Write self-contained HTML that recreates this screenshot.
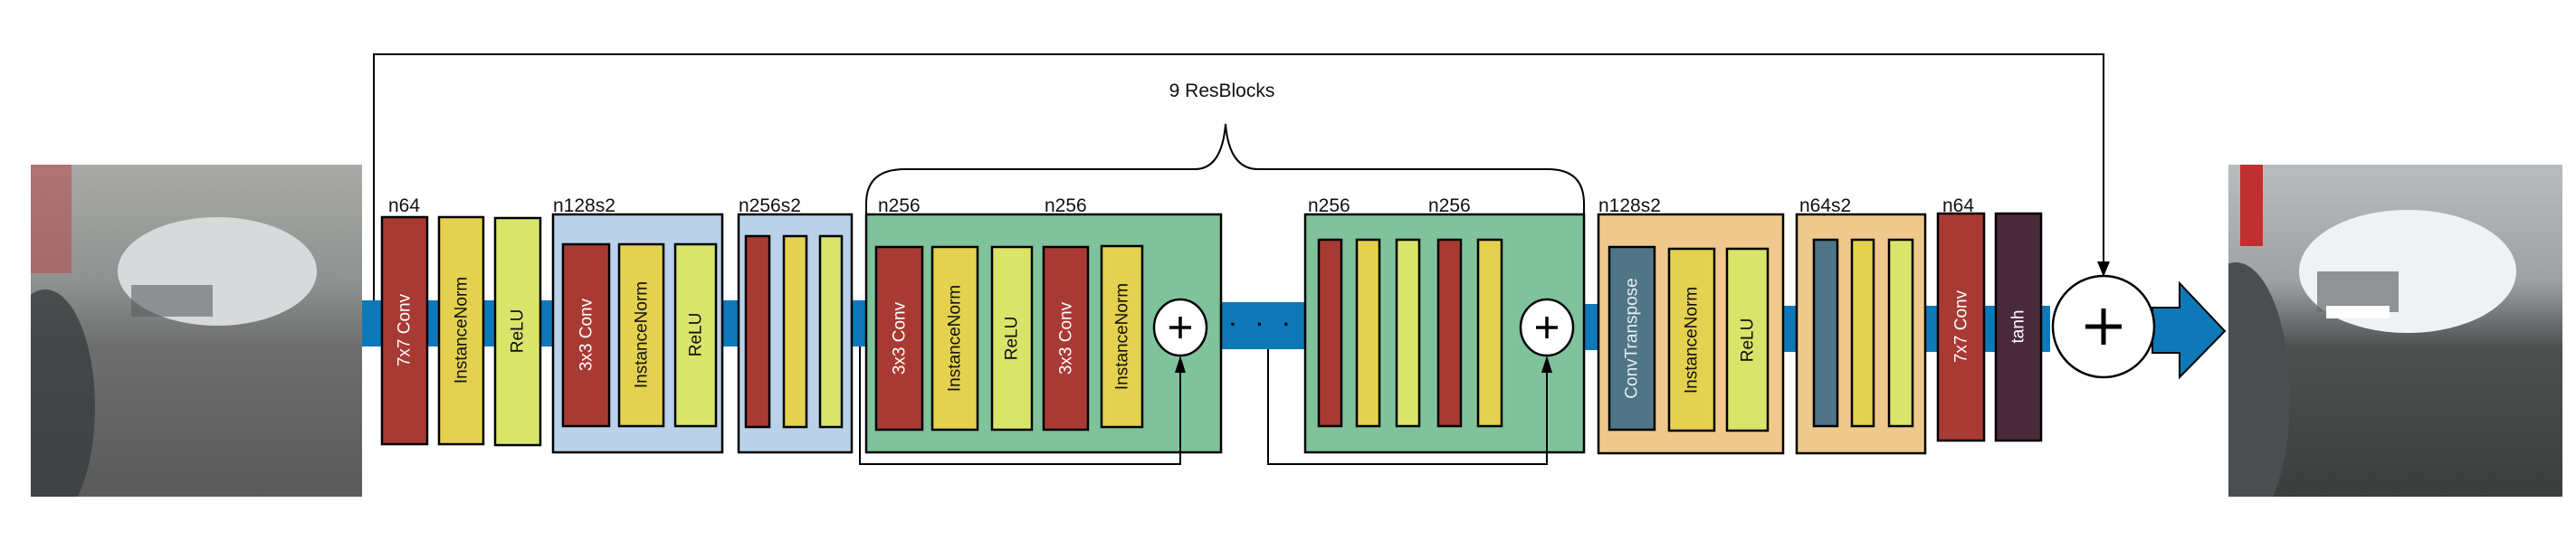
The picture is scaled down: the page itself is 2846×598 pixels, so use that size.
<!DOCTYPE html>
<html><head><meta charset="utf-8"><style>
html,body{margin:0;padding:0;background:#fff;}
svg{display:block;}
.lbl{font-family:"Liberation Sans Narrow","Liberation Sans",sans-serif;font-size:21px;fill:#111;}
.vt{font-family:"Liberation Sans",sans-serif;font-size:19px;text-anchor:middle;dominant-baseline:central;}
</style></head><body>
<svg width="2846" height="598" viewBox="0 0 2846 598" xmlns="http://www.w3.org/2000/svg">
<defs>
<linearGradient id="gL" x1="0" y1="0" x2="0" y2="1">
<stop offset="0" stop-color="#a9aaa8"/><stop offset="0.35" stop-color="#8f9290"/><stop offset="0.55" stop-color="#6d6e6d"/><stop offset="1" stop-color="#595a59"/></linearGradient>
<linearGradient id="gR" x1="0" y1="0" x2="0" y2="1">
<stop offset="0" stop-color="#b8bcbc"/><stop offset="0.35" stop-color="#9ea2a3"/><stop offset="0.55" stop-color="#4e5050"/><stop offset="1" stop-color="#3c3d3d"/></linearGradient>
<clipPath id="cL"><rect x="34" y="182" width="366" height="367"/></clipPath>
<clipPath id="cR"><rect x="2462" y="182" width="369" height="367"/></clipPath>
</defs>

<!-- left image -->
<g clip-path="url(#cL)">
<rect x="34" y="182" width="366" height="367" fill="url(#gL)"/>
<rect x="34" y="182" width="45" height="120" fill="#b25050" opacity="0.6"/>
<ellipse cx="50" cy="450" rx="55" ry="130" fill="#3a3d3f" opacity="0.8"/>
<ellipse cx="240" cy="300" rx="110" ry="60" fill="#d7d9db"/>
<rect x="145" y="315" width="90" height="35" fill="#5b5e60" opacity="0.6"/>
</g>

<!-- right image -->
<g clip-path="url(#cR)">
<rect x="2462" y="182" width="369" height="367" fill="url(#gR)"/>
<rect x="2475" y="182" width="25" height="90" fill="#c03030"/>
<ellipse cx="2470" cy="440" rx="60" ry="150" fill="#4a4e50"/>
<ellipse cx="2660" cy="300" rx="120" ry="68" fill="#f0f1f3"/>
<rect x="2560" y="300" width="90" height="45" fill="#666a6c" opacity="0.7"/>
<rect x="2570" y="338" width="70" height="14" fill="#fff"/>
</g>

<!-- skip line top -->
<polyline points="413,332 413,60 2324,60 2324,292" fill="none" stroke="#000" stroke-width="2"/>
<polygon points="2317,289 2331,289 2324,306" fill="#000"/>

<!-- blue bars -->
<rect x="400" y="332" width="560" height="51" fill="#0f78b8"/>
<rect x="1349" y="334" width="94" height="52" fill="#0f78b8"/>
<rect x="1750" y="336" width="20" height="51" fill="#0f78b8"/>
<rect x="1965" y="338" width="300" height="51" fill="#0f78b8"/>
<path d="M2378,340 L2408,340 L2408,313 L2458,366 L2408,417 L2408,390 L2378,390 Z" fill="#0f78b8" stroke="#000" stroke-width="2"/>
<text x="1396" y="366" text-anchor="middle" font-family="Liberation Sans" font-size="22" font-weight="bold" fill="#000" letter-spacing="8">· · ·</text>

<!-- labels -->
<text class="lbl" x="429" y="234">n64</text>
<text class="lbl" x="611" y="234">n128s2</text>
<text class="lbl" x="816" y="234">n256s2</text>
<text class="lbl" x="970" y="234">n256</text>
<text class="lbl" x="1154" y="234">n256</text>
<text class="lbl" x="1445" y="234">n256</text>
<text class="lbl" x="1578" y="234">n256</text>
<text class="lbl" x="1766" y="234">n128s2</text>
<text class="lbl" x="1988" y="234">n64s2</text>
<text class="lbl" x="2146" y="234">n64</text>
<text class="lbl" x="1350" y="107" text-anchor="middle">9 ResBlocks</text>

<!-- brace -->
<path d="M957,237 L957,225 Q957,187 1000,187 L1320,187 Q1350,187 1354,137 Q1358,187 1390,187 L1710,187 Q1750,187 1750,225 L1750,237" fill="none" stroke="#000" stroke-width="2"/>

<g stroke="#000" stroke-width="2.5">
<rect x="422" y="240" width="50" height="251" fill="#a83a34"/>
<rect x="485" y="240" width="49" height="251" fill="#e4d14f"/>
<rect x="547" y="241" width="50" height="251" fill="#d9e56a"/>
<rect x="611" y="237" width="187" height="263" fill="#b9d1e9"/>
<rect x="622" y="270" width="51" height="201" fill="#a83a34"/>
<rect x="684" y="270" width="49" height="201" fill="#e4d14f"/>
<rect x="746" y="270" width="45" height="201" fill="#d9e56a"/>
<rect x="816" y="237" width="125" height="263" fill="#b9d1e9"/>
<rect x="824" y="261" width="26" height="211" fill="#a83a34"/>
<rect x="866" y="261" width="25" height="211" fill="#e4d14f"/>
<rect x="906" y="261" width="24" height="211" fill="#d9e56a"/>
<rect x="957" y="237" width="392" height="263" fill="#80c29c"/>
<rect x="968" y="273" width="51" height="202" fill="#a83a34"/>
<rect x="1030" y="273" width="50" height="202" fill="#e4d14f"/>
<rect x="1096" y="273" width="44" height="202" fill="#d9e56a"/>
<rect x="1153" y="273" width="49" height="202" fill="#a83a34"/>
<rect x="1217" y="272" width="45" height="200" fill="#e4d14f"/>
<rect x="1442" y="237" width="308" height="263" fill="#80c29c"/>
<rect x="1457" y="265" width="25" height="206" fill="#a83a34"/>
<rect x="1499" y="265" width="25" height="206" fill="#e4d14f"/>
<rect x="1543" y="265" width="25" height="206" fill="#d9e56a"/>
<rect x="1589" y="265" width="25" height="206" fill="#a83a34"/>
<rect x="1633" y="265" width="26" height="206" fill="#e4d14f"/>
<rect x="1766" y="237" width="204" height="264" fill="#efc98c"/>
<rect x="1778" y="273" width="50" height="202" fill="#4f7587"/>
<rect x="1844" y="275" width="50" height="201" fill="#e4d14f"/>
<rect x="1908" y="275" width="45" height="201" fill="#d9e56a"/>
<rect x="1985" y="237" width="142" height="264" fill="#efc98c"/>
<rect x="2004" y="265" width="26" height="206" fill="#4f7587"/>
<rect x="2046" y="265" width="24" height="206" fill="#e4d14f"/>
<rect x="2087" y="265" width="26" height="206" fill="#d9e56a"/>
<rect x="2141" y="236" width="51" height="251" fill="#a83a34"/>
<rect x="2205" y="236" width="50" height="251" fill="#4a2a3a"/>
</g>

<!-- residual loops -->
<polyline points="950,383 950,513 1304,513 1304,410" fill="none" stroke="#000" stroke-width="2"/>
<polyline points="1401,386 1401,513 1709,513 1709,410" fill="none" stroke="#000" stroke-width="2"/>
<polygon points="1298,412 1310,412 1304,393" fill="#000"/>
<polygon points="1703,412 1715,412 1709,393" fill="#000"/>

<!-- plus circles -->
<g stroke="#000" stroke-width="2.5" fill="#fff">
<ellipse cx="1304" cy="362" rx="29" ry="31"/>
<ellipse cx="1709" cy="362" rx="29" ry="31"/>
<circle cx="2324" cy="361" r="56"/>
</g>
<g stroke="#000" stroke-width="3.5">
<line x1="1292" y1="362" x2="1316" y2="362"/><line x1="1304" y1="350" x2="1304" y2="374"/>
<line x1="1697" y1="362" x2="1721" y2="362"/><line x1="1709" y1="350" x2="1709" y2="374"/>
</g>
<g stroke="#000" stroke-width="5">
<line x1="2304" y1="361" x2="2344" y2="361"/><line x1="2324" y1="341" x2="2324" y2="381"/>
</g>

<!-- vertical texts -->
<g class="vt">
<text transform="translate(447,365) rotate(-90)" fill="#fff">7x7 Conv</text>
<text transform="translate(510,365) rotate(-90)" fill="#111">InstanceNorm</text>
<text transform="translate(572,366) rotate(-90)" fill="#111">ReLU</text>
<text transform="translate(648,370) rotate(-90)" fill="#fff">3x3 Conv</text>
<text transform="translate(709,370) rotate(-90)" fill="#111">InstanceNorm</text>
<text transform="translate(769,370) rotate(-90)" fill="#111">ReLU</text>
<text transform="translate(994,374) rotate(-90)" fill="#fff">3x3 Conv</text>
<text transform="translate(1055,374) rotate(-90)" fill="#111">InstanceNorm</text>
<text transform="translate(1118,374) rotate(-90)" fill="#111">ReLU</text>
<text transform="translate(1178,374) rotate(-90)" fill="#fff">3x3 Conv</text>
<text transform="translate(1240,372) rotate(-90)" fill="#111">InstanceNorm</text>
<text transform="translate(1803,374) rotate(-90)" fill="#e6eef2">ConvTranspose</text>
<text transform="translate(1869,376) rotate(-90)" fill="#111">InstanceNorm</text>
<text transform="translate(1931,376) rotate(-90)" fill="#111">ReLU</text>
<text transform="translate(2167,361) rotate(-90)" fill="#fff">7x7 Conv</text>
<text transform="translate(2230,361) rotate(-90)" fill="#fff">tanh</text>
</g>
</svg>
</body></html>
